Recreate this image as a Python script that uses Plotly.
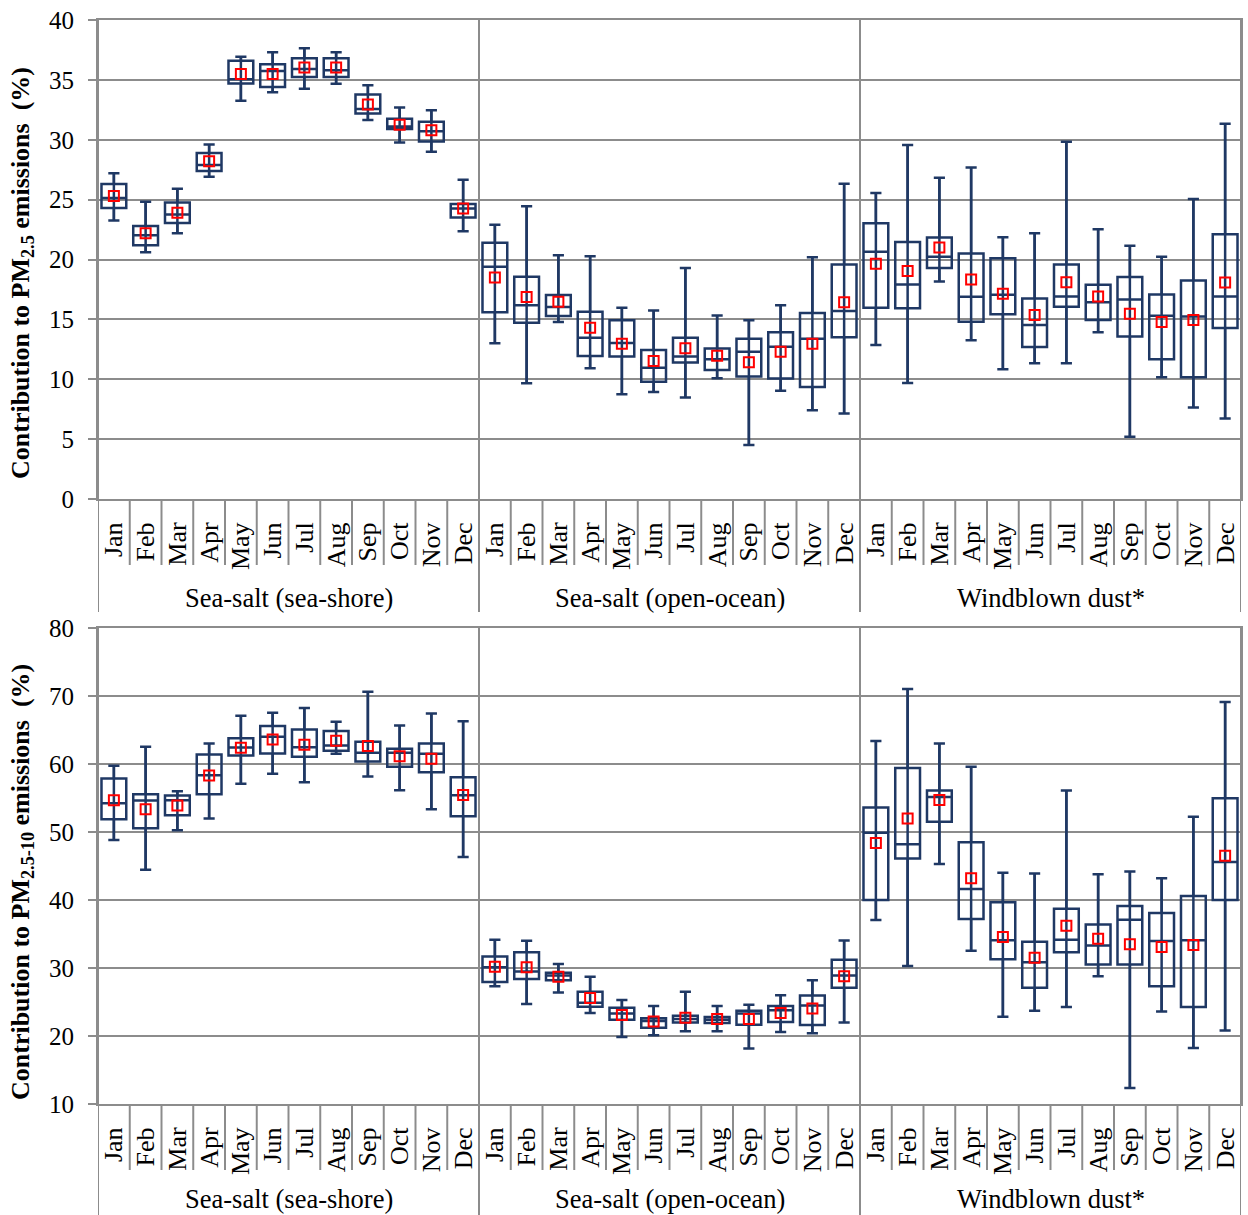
import plotly.graph_objects as go

# ---------------- data ----------------
months = ["Jan", "Feb", "Mar", "Apr", "May", "Jun", "Jul", "Aug", "Sep", "Oct", "Nov", "Dec"]
groups = ["Sea-salt (sea-shore)", "Sea-salt (open-ocean)", "Windblown dust*"]

# PM2.5 panel (sea-shore | open-ocean | dust), 36 values each
fine_min = [23.25, 20.6, 22.2, 26.9, 33.25, 33.97, 34.25, 34.67, 31.64, 29.78, 29.0, 22.36,
            13.0, 9.67, 14.78, 10.92, 8.75, 8.94, 8.47, 10.08, 4.5, 9.03, 7.42, 7.14,
            12.86, 9.69, 18.17, 13.25, 10.83, 11.33, 11.33, 13.92, 5.19, 10.17, 7.64, 6.72]
fine_q1 = [24.3, 21.2, 23.05, 27.4, 34.7, 34.4, 35.25, 35.25, 32.2, 30.9, 29.86, 23.5,
           15.6, 14.72, 15.28, 11.94, 11.9, 9.8, 11.4, 10.78, 10.22, 10.06, 9.36, 13.5,
           15.97, 15.92, 19.3, 14.8, 15.42, 12.7, 16.06, 14.94, 13.58, 11.67, 10.17, 14.28]
fine_med = [25.14, 22.03, 23.75, 27.9, 35.06, 35.75, 35.9, 35.8, 32.56, 31.1, 30.7, 24.25,
            19.4, 16.17, 16.03, 13.47, 13.03, 10.97, 11.9, 11.67, 12.3, 12.72, 13.39, 15.69,
            20.64, 17.92, 20.22, 16.89, 17.06, 14.53, 16.92, 16.42, 16.67, 15.31, 15.25, 16.92]
fine_q3 = [26.3, 22.8, 24.75, 28.9, 36.6, 36.3, 36.8, 36.8, 33.78, 31.75, 31.5, 24.64,
           21.4, 18.56, 17.03, 15.64, 14.92, 12.44, 13.47, 12.56, 13.39, 13.92, 15.53, 19.58,
           23.03, 21.47, 21.83, 20.5, 20.1, 16.75, 19.58, 17.89, 18.53, 17.08, 18.25, 22.11]
fine_max = [27.2, 24.83, 25.9, 29.6, 36.94, 37.3, 37.64, 37.3, 34.56, 32.7, 32.47, 26.67,
            22.9, 24.44, 20.36, 20.28, 15.97, 15.75, 19.3, 15.33, 14.92, 16.17, 20.19, 26.33,
            25.56, 29.56, 26.83, 27.69, 21.86, 22.19, 29.83, 22.53, 21.14, 20.22, 25.06, 31.33]
fine_mean = [25.3, 22.2, 23.9, 28.2, 35.5, 35.5, 36.03, 36.03, 32.94, 31.25, 30.8, 24.25,
             18.5, 16.86, 16.47, 14.3, 12.97, 11.53, 12.58, 11.97, 11.42, 12.3, 12.97, 16.42,
             19.64, 19.03, 21.0, 18.33, 17.14, 15.36, 18.11, 16.92, 15.47, 14.78, 14.94, 18.08]

# PM2.5-10 panel
coarse_min = [48.82, 44.45, 50.25, 52.0, 57.08, 58.55, 57.32, 61.5, 58.16, 56.14, 53.34, 46.34,
              27.3, 24.7, 26.4, 23.4, 19.85, 20.1, 20.7, 20.7, 18.15, 20.6, 20.4, 22.0,
              37.06, 30.3, 45.3, 32.55, 22.84, 23.7, 24.26, 28.8, 12.35, 23.6, 18.24, 20.8]
coarse_q1 = [51.87, 50.54, 52.46, 55.55, 61.25, 61.55, 61.06, 61.94, 60.37, 59.58, 58.8, 52.3,
             27.95, 28.4, 28.2, 24.3, 22.4, 21.2, 22.0, 21.9, 21.65, 22.05, 21.6, 27.1,
             40.0, 46.1, 51.5, 37.2, 31.3, 27.1, 32.3, 30.5, 30.5, 27.3, 24.26, 40.0]
coarse_med = [54.23, 54.62, 54.67, 58.35, 62.43, 64.0, 62.48, 62.73, 61.65, 61.65, 61.5, 55.4,
              30.1, 29.5, 28.9, 24.9, 23.3, 22.2, 22.5, 22.4, 23.3, 23.8, 24.5, 28.9,
              49.9, 48.2, 55.15, 41.6, 34.07, 30.83, 34.17, 33.3, 37.1, 33.97, 34.07, 45.6]
coarse_q3 = [57.86, 55.55, 55.36, 61.4, 63.8, 65.58, 65.09, 64.84, 63.27, 62.24, 63.0, 58.06,
             31.7, 32.3, 29.3, 26.5, 24.15, 22.6, 22.98, 22.8, 23.7, 24.4, 25.95, 31.2,
             53.6, 59.4, 56.1, 48.5, 39.66, 33.87, 38.7, 36.4, 39.1, 38.1, 40.6, 54.95]
coarse_max = [59.73, 62.53, 56.0, 63.0, 67.1, 67.54, 68.23, 66.2, 70.64, 65.68, 67.44, 66.27,
              34.15, 34.0, 30.6, 28.7, 25.3, 24.4, 26.5, 24.4, 24.6, 26.0, 28.2, 34.05,
              63.4, 71.03, 63.0, 59.6, 44.0, 43.9, 56.1, 43.8, 44.2, 43.2, 52.25, 69.1]
coarse_mean = [54.67, 53.34, 53.88, 58.3, 62.38, 63.6, 62.83, 63.42, 62.63, 61.15, 60.76, 55.45,
               30.2, 30.1, 28.7, 25.6, 23.1, 22.15, 22.7, 22.5, 22.5, 23.4, 24.05, 28.8,
               48.4, 52.0, 54.7, 43.2, 34.56, 31.5, 36.2, 34.3, 33.5, 33.1, 33.4, 46.5]

# ---------------- style ----------------
NAVY = "#1F3864"
GRID = "#8C8C8C"
FONT = "Liberation Serif"
W, H = 1248, 1215

def py(px):
    return 1 - px / H

X_DOM = [98 / W, 1241 / W]
panels = [
    dict(dom=[py(499), py(20)], rng=[0, 40], dt=5,
         data=(fine_min, fine_q1, fine_med, fine_q3, fine_max, fine_mean),
         monthsep=py(565), groupsep=py(612), glab=py(598),
         title="Contribution to PM<sub>2.5</sub> emissions  (%)", tcy=py(273)),
    dict(dom=[py(1104), py(628)], rng=[10, 80], dt=10,
         data=(coarse_min, coarse_q1, coarse_med, coarse_q3, coarse_max, coarse_mean),
         monthsep=py(1170), groupsep=0.0, glab=py(1199),
         title="Contribution to PM<sub>2.5-10</sub> emissions  (%)", tcy=py(882)),
]

pos = [i + 0.5 for i in range(36)]
ticktext = months * 3

fig = go.Figure()
shapes = []
annotations = []

for k, p in enumerate(panels):
    sfx = "" if k == 0 else "2"
    xa, ya = "x" + sfx, "y" + sfx
    mn, q1, med, q3, mx, mean = p["data"]
    wx, wy = [], []
    for xp, lo, hi in zip(pos, mn, mx):
        wx += [xp, xp, None]
        wy += [lo, hi, None]
    fig.add_trace(go.Scatter(x=wx, y=wy, mode="lines", line=dict(color=NAVY, width=2.5),
                             xaxis=xa, yaxis=ya, showlegend=False, hoverinfo="skip"))
    fig.add_trace(go.Box(x=pos, q1=q1, median=med, q3=q3, lowerfence=mn, upperfence=mx,
                         width=0.78, whiskerwidth=0.45, boxpoints=False,
                         line=dict(color=NAVY, width=2.5), fillcolor="rgba(0,0,0,0)",
                         xaxis=xa, yaxis=ya, showlegend=False))
    fig.add_trace(go.Scatter(x=pos, y=mean, mode="markers",
                             marker=dict(symbol="square-open", size=10, color="#FF0000",
                                         line=dict(width=2, color="#FF0000")),
                             xaxis=xa, yaxis=ya, showlegend=False))

    fig.update_layout(**{
        "xaxis" + sfx: dict(domain=X_DOM, range=[0, 36], anchor=ya, automargin=False,
                            tickmode="array", tickvals=pos, ticktext=ticktext,
                            tickangle=-90, ticks="", showgrid=False, zeroline=False,
                            showline=True, linecolor=GRID, linewidth=2, mirror=True,
                            tickfont=dict(family=FONT, size=26, color="black"),
                            ticklabelstandoff=11),
        "yaxis" + sfx: dict(domain=p["dom"], range=p["rng"], dtick=p["dt"], automargin=False,
                            anchor=xa, showgrid=True, gridcolor=GRID,
                            gridwidth=2, zeroline=False, showline=True, linecolor=GRID,
                            linewidth=2, mirror=True, ticks="outside", ticklen=8,
                            tickwidth=2, tickcolor=GRID,
                            tickfont=dict(family=FONT, size=25, color="black"),
                            ticklabelstandoff=9),
    })

    for b in range(37):
        if b % 12 == 0:
            y0, y1 = p["groupsep"], p["dom"][1]
        else:
            y0, y1 = p["monthsep"], p["dom"][0]
        shapes.append(dict(type="line", xref=xa, yref="paper", x0=b, x1=b, y0=y0, y1=y1,
                           line=dict(color=GRID, width=2), layer="below"))
    for g, name in enumerate(groups):
        annotations.append(dict(text=name, xref=xa, yref="paper", x=6 + 12 * g, y=p["glab"],
                                showarrow=False, xanchor="center", yanchor="middle",
                                font=dict(family=FONT, size=26.5, color="black")))
    annotations.append(dict(text="<b>" + p["title"] + "</b>", xref="paper", yref="paper",
                            x=22 / W, y=p["tcy"], textangle=-90, showarrow=False,
                            xanchor="center", yanchor="middle",
                            font=dict(family=FONT, size=26, color="black")))

fig.update_layout(width=W, height=H, margin=dict(l=0, r=0, t=0, b=0, autoexpand=False),
                  paper_bgcolor="white", plot_bgcolor="white",
                  shapes=shapes, annotations=annotations, showlegend=False)

fig.write_html("out.html", config={"displayModeBar": False})
